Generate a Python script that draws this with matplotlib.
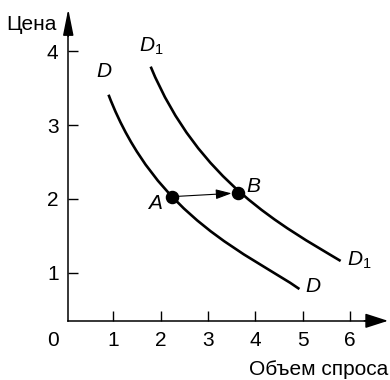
import matplotlib.pyplot as plt
from matplotlib.path import Path
from matplotlib.patches import PathPatch

plt.rcParams['font.family'] = ['Liberation Sans', 'DejaVu Sans']
plt.rcParams['mathtext.fontset'] = 'custom'
plt.rcParams['mathtext.it'] = 'Liberation Sans:italic'
plt.rcParams['mathtext.rm'] = 'Liberation Sans'

# Demand curve D: start, two bezier handles, end (quantity, price)
d_qty = [0.90, 1.90, 3.93, 4.93]
d_price = [3.41, 1.73, 1.23, 0.78]

# Shifted demand curve D1
d1_qty = [1.79, 2.79, 4.60, 5.80]
d1_price = [3.79, 2.24, 1.62, 1.16]

# Points A and B
point_names = ["A", "B"]
point_qty = [2.23, 3.63]
point_price = [2.03, 2.08]

x_ticks = [1, 2, 3, 4, 5, 6]
y_ticks = [1, 2, 3, 4]

x_axis_at = 0.35   # price level where the quantity axis is drawn
y_axis_at = 0.05   # quantity level where the price axis is drawn
fs = 15

fig = plt.figure(figsize=(3.9, 3.8), dpi=100)
ax = fig.add_axes([0, 0, 1, 1])
ax.set_xlim(-1.391, 6.842)
ax.set_ylim(-0.451, 4.692)

# Axes
ax.spines['top'].set_visible(False)
ax.spines['right'].set_visible(False)
ax.spines['left'].set_position(('data', y_axis_at))
ax.spines['bottom'].set_position(('data', x_axis_at))
ax.spines['left'].set_bounds(x_axis_at, 4.3)
ax.spines['bottom'].set_bounds(y_axis_at, 6.5)
for s in ['left', 'bottom']:
    ax.spines[s].set_linewidth(1.1)

ax.set_xticks(x_ticks)
ax.set_yticks(y_ticks)
ax.tick_params(direction='in', length=7, width=1.0, labelsize=fs)
ax.tick_params(axis='x', pad=7)
ax.tick_params(axis='y', pad=7)

# Arrow heads of the axes
ax.annotate("", xy=(6.80, x_axis_at), xytext=(6.3, x_axis_at),
            arrowprops=dict(arrowstyle='-|>,head_length=1.4,head_width=0.45',
                            color='black', lw=1.1, mutation_scale=10,
                            shrinkA=0, shrinkB=0))
ax.annotate("", xy=(y_axis_at, 4.57), xytext=(y_axis_at, 4.2),
            arrowprops=dict(arrowstyle='-|>,head_length=1.6,head_width=0.32',
                            color='black', lw=1.1, mutation_scale=10,
                            shrinkA=0, shrinkB=0))

ax.annotate("0", xy=(-0.27, x_axis_at), xytext=(0, -7), textcoords='offset points',
            ha='center', va='top', fontsize=fs)
ax.text(-0.19, 4.28, "Цена", ha='right', va='baseline', fontsize=fs)
ax.text(6.80, -0.38, "Объем спроса", ha='right', va='baseline', fontsize=fs)

# Curves (cubic bezier)
codes = [Path.MOVETO, Path.CURVE4, Path.CURVE4, Path.CURVE4]
for qty, price in [(d_qty, d_price), (d1_qty, d1_price)]:
    curve = Path(list(zip(qty, price)), codes)
    ax.add_patch(PathPatch(curve, facecolor='none', edgecolor='black', lw=1.9,
                           capstyle='butt'))

# Movement from A to B
ax.annotate("", xy=(point_qty[1], point_price[1]), xytext=(point_qty[0], point_price[0]),
            arrowprops=dict(arrowstyle='-|>,head_length=0.8,head_width=0.25',
                            color='black', lw=0.8, mutation_scale=12,
                            shrinkA=0, shrinkB=4.5))
ax.plot(point_qty, point_price, 'o', ms=8.7, color='black', zorder=4)

# Labels
ax.text(0.81, 3.72, "$D$", ha='center', va='center', fontsize=fs)
ax.text(1.54, 4.06, "$D_1$", ha='left', va='center', fontsize=fs)
ax.text(5.22, 0.81, "$D$", ha='center', va='center', fontsize=fs)
ax.text(5.93, 1.17, "$D_1$", ha='left', va='center', fontsize=fs)
ax.text(1.88, 1.94, "$" + point_names[0] + "$", ha='center', va='center', fontsize=fs)
ax.text(3.96, 2.17, "$" + point_names[1] + "$", ha='center', va='center', fontsize=fs)

fig.savefig("out.png", dpi=100)
